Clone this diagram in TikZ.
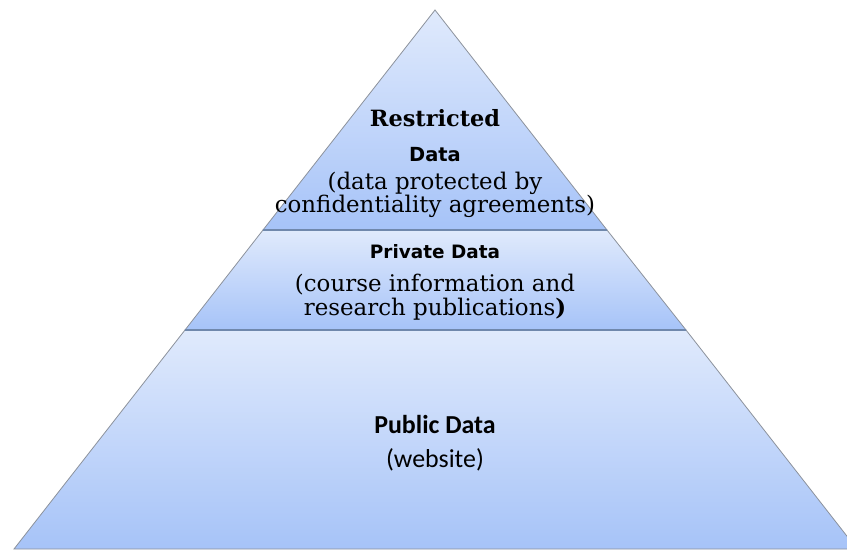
\documentclass[tikz,border=0pt]{standalone}
\usepackage{fontspec}
\setmainfont{DejaVu Serif}
\newfontfamily\verdfont{DejaVu Sans}
\newfontfamily\calibfont{Carlito}
\usetikzlibrary{calc}

\definecolor{tiertop}{HTML}{E0EAFC}
\definecolor{tierbot}{HTML}{A6C3F8}
\definecolor{tieredge}{HTML}{8C929C}
\definecolor{tierline}{HTML}{7088AC}

\begin{document}
\begin{tikzpicture}[x=1bp,y=-1bp,
    tier/.style={top color=tiertop,bottom color=tierbot,draw=tieredge,line width=0.8bp},
    sep/.style={draw=tierline,line width=1.6bp},
    headserif/.style={font=\fontsize{22.5}{26}\selectfont\bfseries},
    headsans/.style={font=\verdfont\fontsize{19.5}{22}\selectfont\bfseries},
    noteserif/.style={font=\fontsize{23}{23.5}\selectfont,align=center},
    headcal/.style={font=\calibfont\fontsize{26}{28}\selectfont\bfseries},
    notecal/.style={font=\calibfont\fontsize{26}{28}\selectfont}]
\useasboundingbox (0,0) rectangle (847,550);
\clip (0,0) rectangle (847,550);

% pyramid corners
\coordinate (apex) at (435,10);
\coordinate (L1) at (263,230);
\coordinate (R1) at (607,230);
\coordinate (L2) at (185,330);
\coordinate (R2) at (686,330);
\coordinate (L3) at (14,549);
\coordinate (R3) at (857,549);

\path[tier] (apex) -- (R1) -- (L1) -- cycle;
\path[tier] (L1) -- (R1) -- (R2) -- (L2) -- cycle;
\path[tier] (L2) -- (R2) -- (R3) -- (L3) -- cycle;

\foreach \a/\b in {L1/R1,L2/R2}
    {
        \draw [sep] (\a) -- (\b);
    }

% restricted
\node[headserif] (restr) at (435,118) {Restricted};
\node[headsans] (rdata) at (435,155) {Data};
\node[noteserif] (rnote) at (435,195) {(data protected by\\confidentiality agreements)};

% private
\node[headsans,font=\verdfont\fontsize{18.5}{22}\selectfont\bfseries] (pdata) at (435,252) {Private Data};
\node[noteserif] (pnote) at (435,297) {(course information and\\research publications\textbf{)}};

% public
\node[headcal] (udata) at (435,425) {Public Data};
\node[notecal] (unote) at (435,460) {(website)};

\end{tikzpicture}
\end{document}
